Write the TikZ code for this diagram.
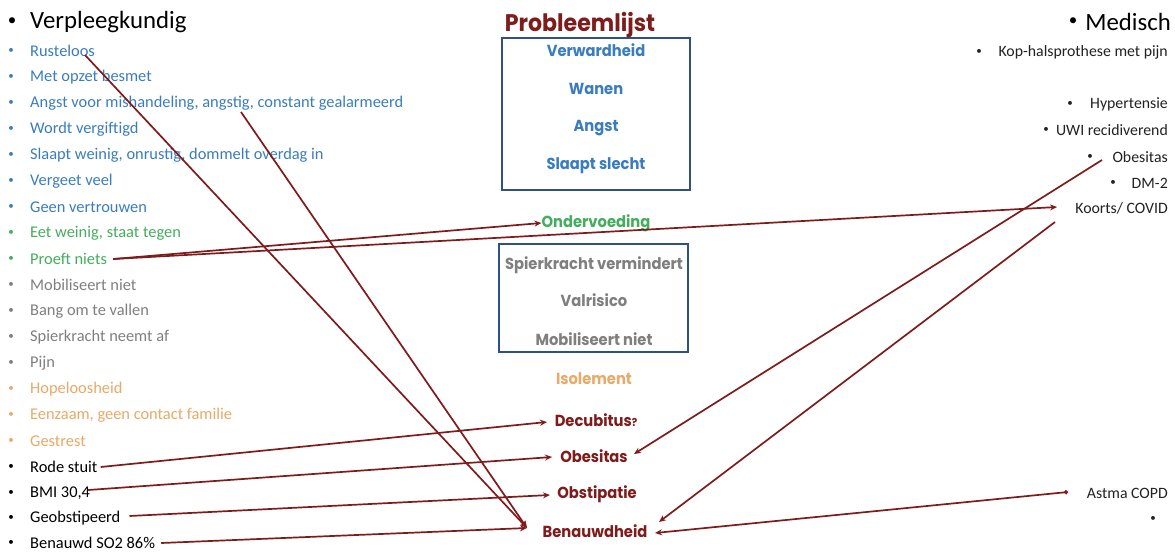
\documentclass[tikz,border=0pt]{standalone}
\usepackage{fontspec}
\setmainfont{Carlito}
\newfontfamily\geo{Poppins}[FakeStretch=0.92]
\usetikzlibrary{arrows.meta,calc}
\definecolor{cblue}{HTML}{3A7DBE}
\definecolor{cgreen}{HTML}{45AD5E}
\definecolor{cgray}{HTML}{7F7F7F}
\definecolor{corange}{HTML}{E9A968}
\definecolor{cred}{HTML}{7E1C1C}
\definecolor{cbox}{HTML}{2F4F86}
\definecolor{ctext}{HTML}{222222}
\begin{document}
\begin{tikzpicture}[x=1pt,y=-1pt,
  item/.style={anchor=west,inner xsep=2pt,inner ysep=1pt,font=\fontsize{16.4}{18}\selectfont},
  bul/.style={inner sep=0pt,font=\fontsize{11}{12}\selectfont},
  hbul/.style={inner sep=0pt,font=\fontsize{17}{18}\selectfont,text=black},
  head/.style={inner sep=0pt,font=\fontsize{24.8}{26}\selectfont,text=black},
  prob/.style={inner sep=1pt,font=\geo\bfseries\fontsize{16}{18}\selectfont},
  ritem/.style={anchor=east,inner xsep=2pt,inner ysep=1pt,font=\fontsize{15.8}{18}\selectfont,text=ctext},
  conn/.style={draw=cred,line width=1.7pt,-{Stealth[length=7pt,width=6pt]}},
  pbox/.style={draw=cbox,line width=1.8pt,inner sep=0pt}]
\useasboundingbox[fill=white] (0,0) rectangle (1175,552);

% ---------- left column ----------
\node[head,anchor=west] (lh) at (30,22) {Verpleegkundig};
\node[hbul] at (12,22) {•};
\foreach \y/\c in {51/cblue,77/cblue,103/cblue,129/cblue,155/cblue,181/cblue,207/cblue,
  233/cgreen,259/cgreen,285/cgray,311/cgray,337/cgray,363/cgray,389/corange,415/corange,
  441/corange,467/black,493/black,518/black,543/black}
  \node[bul,text=\c] at (11,\y) {•};
\node[item,text=cblue] (l1) at (28,51) {Rusteloos};
\node[item,text=cblue] (l2) at (28,77) {Met opzet besmet};
\node[item,text=cblue] (l3) at (28,103) {Angst voor mishandeling, angstig, constant gealarmeerd};
\node[item,text=cblue] (l4) at (28,129) {Wordt vergiftigd};
\node[item,text=cblue] (l5) at (28,155) {Slaapt weinig, onrustig, dommelt overdag in};
\node[item,text=cblue] (l6) at (28,181) {Vergeet veel};
\node[item,text=cblue] (l7) at (28,207) {Geen vertrouwen};
\node[item,text=cgreen] (l8) at (28,233) {Eet weinig, staat tegen};
\node[item,text=cgreen] (l9) at (28,259) {Proeft niets};
\node[item,text=cgray] (l10) at (28,285) {Mobiliseert niet};
\node[item,text=cgray] (l11) at (28,311) {Bang om te vallen};
\node[item,text=cgray] (l12) at (28,337) {Spierkracht neemt af};
\node[item,text=cgray] (l13) at (28,363) {Pijn};
\node[item,text=corange] (l14) at (28,389) {Hopeloosheid};
\node[item,text=corange] (l15) at (28,415) {Eenzaam, geen contact familie};
\node[item,text=corange] (l16) at (28,441) {Gestrest};
\node[item,text=black] (rode) at (28,467) {Rode stuit};
\node[item,text=black] (bmi) at (28,493) {BMI 30,4};
\node[item,text=black] (geob) at (28,518) {Geobstipeerd};
\node[item,text=black] (benso) at (28,543) {Benauwd SO2 86\%};

% ---------- centre ----------
\node[inner sep=0pt,font=\geo\bfseries\fontsize{24}{26}\selectfont,text=cred] (pl) at (580,25) {Probleemlijst};
\node[pbox,minimum width=188pt,minimum height=152pt] (box1) at (596,114) {};
\node[pbox,minimum width=189pt,minimum height=108pt] (box2) at (593.5,298) {};
\node[prob,text=cblue] (verw) at (596,50) {Verwardheid};
\node[prob,text=cblue] (wanen) at (596,89) {Wanen};
\node[prob,text=cblue] (angst) at (596,128) {Angst};
\node[prob,text=cblue] (slaapt) at (596,166) {Slaapt slecht};
\node[prob,text=cgreen] (onder) at (596,223) {Ondervoeding};
\node[prob,text=cgray] (spier) at (594,265) {Spierkracht vermindert};
\node[prob,text=cgray] (valr) at (594,300) {Valrisico};
\node[prob,text=cgray] (mobi) at (594,339) {Mobiliseert niet};
\node[prob,text=corange] (isol) at (594,379) {Isolement};
\node[prob,text=cred] (decu) at (596,420) {Decubitus{\fontsize{11}{12}\selectfont?}};
\node[prob,text=cred] (cobes) at (594,456) {Obesitas};
\node[prob,text=cred] (obst) at (597,494) {Obstipatie};
\node[prob,text=cred] (benau) at (595,531) {Benauwdheid};

% ---------- right column ----------
\node[head,anchor=east] (rh) at (1171,22) {Medisch};
\node[hbul] at (1073,22) {•};
\node[ritem] (kop) at (1170,52) {Kop-halsprothese met pijn};
\node[bul,text=ctext] at (979,52) {•};
\node[ritem] (hyp) at (1170,104) {Hypertensie};
\node[bul,text=ctext] at (1070,104) {•};
\node[ritem] (uwi) at (1170,130) {UWI recidiverend};
\node[bul,text=ctext] at (1046,130) {•};
\node[ritem] (robes) at (1170,157) {Obesitas};
\node[bul,text=ctext] at (1090,157) {•};
\node[ritem] (dm) at (1170,183) {DM-2};
\node[bul,text=ctext] at (1113,183) {•};
\node[ritem] (koorts) at (1170,208) {Koorts/ COVID};
\node[ritem] (astma) at (1170,493) {Astma COPD};
\node[bul,text=ctext] at (1153,519) {•};

% ---------- connector end points ----------
\coordinate (rs) at (85,55);
\coordinate (ag) at (241,112);
\coordinate (bl) at (527,528);
\coordinate (ro) at (1102,160);
\coordinate (kc) at (1055,222);
\coordinate (ad) at (1068,492);
\coordinate (br1) at (659,522);
\coordinate (br2) at (655,533);

% ---------- connectors ----------
\draw[conn] (rs) -- (bl);
\draw[conn] (ag) -- (bl);
\draw[conn] ($(l9.east)+(4,0)$) -- ($(onder.west)+(1,0)$);
\draw[conn] ($(l9.east)+(4,0)$) -- (1057,207);
\draw[conn] ($(rode.east)+(1,0)$) -- (547,422);
\draw[conn] ($(bmi.east)+(-4,-3)$) -- (552,457);
\draw[conn] ($(geob.east)+(7,-2)$) -- (550,495);
\draw[conn] ($(benso.east)+(4,0)$) -- (bl);
\draw[conn] (ro) -- (634,454);
\draw[conn] (kc) -- (br1);
\draw[conn,{Circle[length=4pt]}-{Stealth[length=7pt,width=6pt]}] (ad) -- (br2);
\end{tikzpicture}
\end{document}
